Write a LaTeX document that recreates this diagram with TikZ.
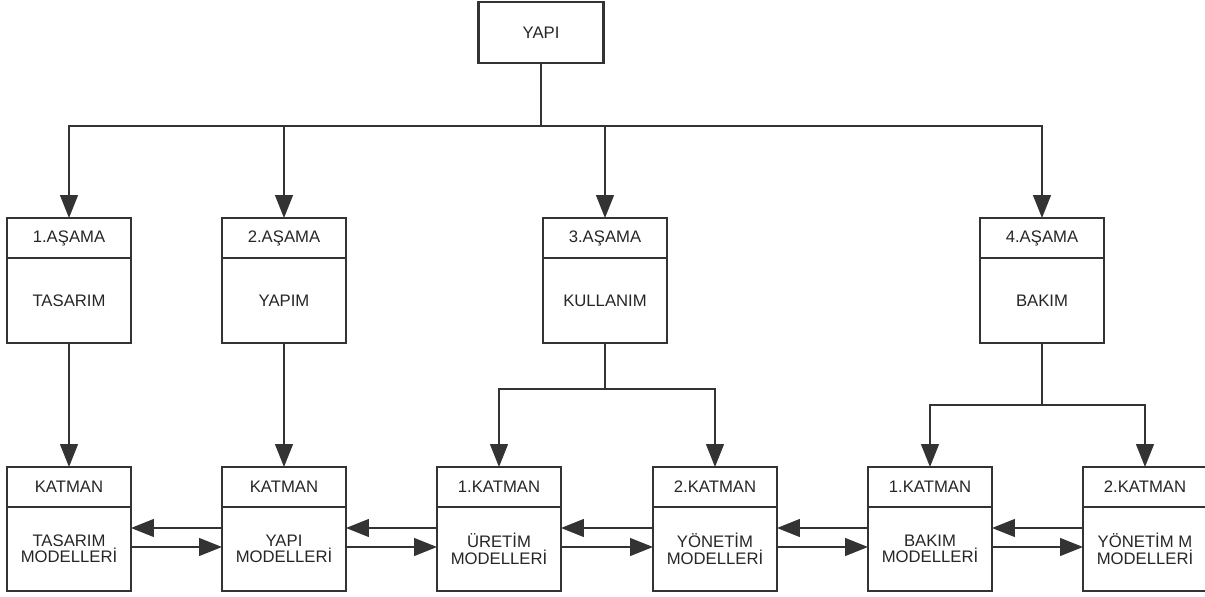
\documentclass[tikz,border=0pt]{standalone}
\usepackage{fontspec}
\setmainfont{Liberation Sans}
\usetikzlibrary{arrows.meta,positioning,calc}
\tikzset{
	box/.style={
		rectangle, draw=black!80, line width=1.3pt, outer sep=0pt,
		minimum width=2.48cm, text=black!85, font=\fontsize{9.5}{11}\selectfont
	},
	%
	headbox/.style={box, minimum height=0.8cm},
	%
	stagebox/.style={box, minimum height=1.7cm},
	%
	modelbox/.style={box, minimum height=1.68cm, align=center, font=\fontsize{9.5}{7}\selectfont},
	%
	link/.style={draw=black!80, line width=1.3pt}
}

\begin{document}
\begin{tikzpicture}[x=0.02cm, y=-0.02cm, >={Triangle[length=13pt,width=10pt]}]
\useasboundingbox (0,0) rectangle (1205,596);

%top
\node (yapi) [box, minimum width=2.5cm, minimum height=1.22cm] at (541,32.5) {YAPI};

%stages
\node (A1) [headbox, anchor=north] at (69,218) {1.AŞAMA};
\node (S1) [stagebox, below=0pt of A1] {TASARIM};
\node (A2) [headbox, anchor=north] at (284,218) {2.AŞAMA};
\node (S2) [stagebox, below=0pt of A2] {YAPIM};
\node (A3) [headbox, anchor=north] at (605,218) {3.AŞAMA};
\node (S3) [stagebox, below=0pt of A3] {KULLANIM};
\node (A4) [headbox, anchor=north] at (1042,218) {4.AŞAMA};
\node (S4) [stagebox, below=0pt of A4] {BAKIM};

%layers
\node (K1) [headbox, anchor=north] at (69,467) {KATMAN};
\node (M1) [modelbox, below=0pt of K1] {TASARIM\\MODELLERİ};
\node (K2) [headbox, anchor=north] at (284,467) {KATMAN};
\node (M2) [modelbox, below=0pt of K2] {YAPI\\MODELLERİ};
\node (K3) [headbox, anchor=north] at (499,467) {1.KATMAN};
\node (M3) [modelbox, below=0pt of K3] {ÜRETİM\\MODELLERİ};
\node (K4) [headbox, anchor=north] at (715,467) {2.KATMAN};
\node (M4) [modelbox, below=0pt of K4] {YÖNETİM\\MODELLERİ};
\node (K5) [headbox, anchor=north] at (930,467) {1.KATMAN};
\node (M5) [modelbox, below=0pt of K5] {BAKIM\\MODELLERİ};
\node (K6) [headbox, anchor=north] at (1145,467) {2.KATMAN};
\node (M6) [modelbox, below=0pt of K6] {YÖNETİM M\\MODELLERİ};

\coordinate (bus) at (yapi.south |- 0,126);
\coordinate (split3) at (S3.south |- 0,389);
\coordinate (split4) at (S4.south |- 0,405);

%arrows
\draw[link] (yapi) -- (bus);
\foreach \a in {A1,A2,A3,A4}
	\draw[->,link] (bus) -| (\a.north);

\draw[->,link] (S1) -- (K1);
\draw[->,link] (S2) -- (K2);

\draw[link] (S3) -- (split3);
\draw[->,link] (split3) -| (K3.north);
\draw[->,link] (split3) -| (K4.north);
\draw[link] (S4) -- (split4);
\draw[->,link] (split4) -| (K5.north);
\draw[->,link] (split4) -| (K6.north);

\foreach \l/\r in {M1/M2,M2/M3,M3/M4,M4/M5,M5/M6}{
	\draw[->,link] (\r.west |- 0,528) -- (\l.east |- 0,528);
	\draw[->,link] (\l.east |- 0,547) -- (\r.west |- 0,547);
}

\end{tikzpicture}
\end{document}
